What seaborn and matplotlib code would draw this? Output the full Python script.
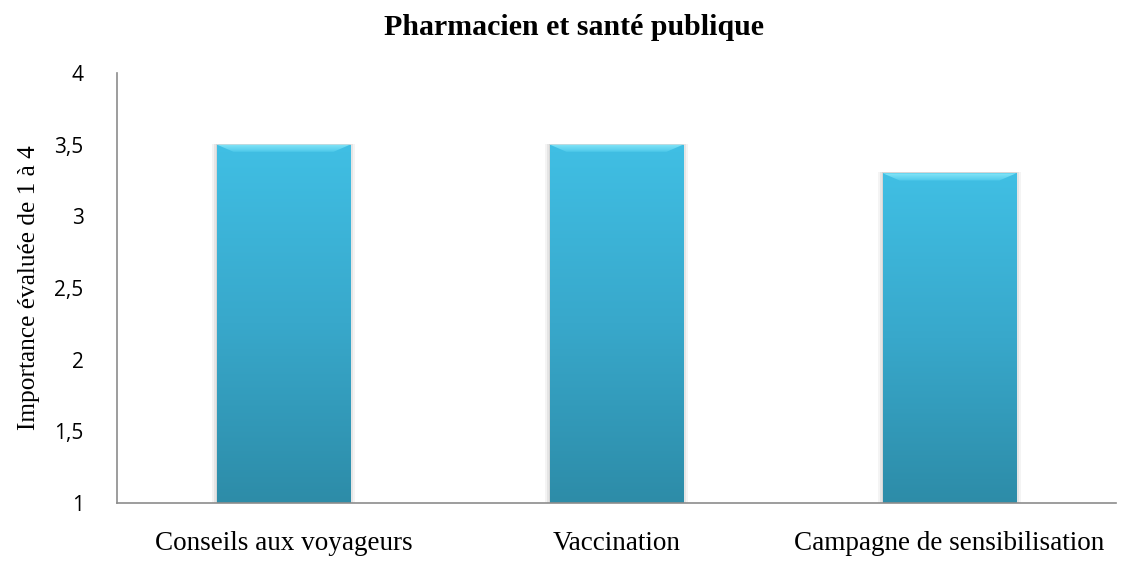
import numpy as np
import pandas as pd
import matplotlib
matplotlib.use("Agg")
import matplotlib.pyplot as plt
import seaborn as sns
from matplotlib.colors import LinearSegmentedColormap

categories = ["Conseils aux voyageurs", "Vaccination", "Campagne de sensibilisation"]
values = [3.5, 3.5, 3.3]
y_ticks = [1, 1.5, 2, 2.5, 3, 3.5, 4]
y_tick_labels = ["1", "1,5", "2", "2,5", "3", "3,5", "4"]
title = "Pharmacien et santé publique"
y_label = "Importance évaluée de 1 à 4"

sns.set_theme(style="white")
plt.rcParams['font.family'] = ['Liberation Serif', 'DejaVu Sans']
plt.rcParams['text.color'] = 'black'
plt.rcParams['axes.labelcolor'] = 'black'
plt.rcParams['xtick.color'] = 'black'
plt.rcParams['ytick.color'] = 'black'

df = pd.DataFrame({"cat": categories, "val": values})

fig = plt.figure(figsize=(11.23, 5.63), dpi=100)
ax = fig.add_axes([0.1042, 0.1066, 0.8896, 0.7637])

sns.barplot(data=df, x="cat", y="val", ax=ax, color="#3cb6dc", width=0.4)
ax.set_ylim(1, 4)

cmap = LinearSegmentedColormap.from_list("g", ["#2d8ca8", "#38a8cb", "#40bfe4"])
grad = np.linspace(0, 1, 256).reshape(-1, 1)
hl_cmap = LinearSegmentedColormap.from_list("h", ["#4cc8ea", "#86e6f8"])
for p in list(ax.patches):
    x0, w = p.get_x(), p.get_width()
    top = p.get_y() + p.get_height()
    # soft shadow
    for k, a in [(0.014, 0.07), (0.008, 0.10), (0.004, 0.12)]:
        sh = plt.Rectangle((x0 - k, 1), w + 2 * k, top - 1 + 0.006,
                           facecolor="#6a6a6a", alpha=a, edgecolor="none",
                           zorder=p.get_zorder() - 0.1)
        ax.add_patch(sh)
    im = ax.imshow(grad, extent=[x0, x0 + w, 1, top], origin="lower",
                   cmap=cmap, aspect="auto", zorder=p.get_zorder() + 0.1)
    im.set_clip_path(p)
    p.set_edgecolor("#246f85")
    p.set_linewidth(0.7)
    # bevel highlight at top (trapezoid)
    bh = 0.05
    dx = 0.05
    poly = plt.Polygon([(x0, top), (x0 + w, top), (x0 + w - dx, top - bh), (x0 + dx, top - bh)],
                       closed=True, facecolor="none", edgecolor="none",
                       zorder=p.get_zorder() + 0.2)
    ax.add_patch(poly)
    im2 = ax.imshow(grad, extent=[x0, x0 + w, top - bh, top], origin="lower",
                    cmap=hl_cmap, aspect="auto", zorder=p.get_zorder() + 0.2)
    im2.set_clip_path(poly)
ax.set_xlim(-0.5, 2.5)
ax.set_ylim(1, 4)

ax.set_yticks(y_ticks)
ax.set_yticklabels(y_tick_labels, fontfamily="Open Sans", fontsize=15)
ax.tick_params(axis="y", length=0, pad=24)
ax.tick_params(axis="x", length=0, pad=20, labelsize=19.5)
for lab in ax.get_xticklabels():
    lab.set_fontfamily("Liberation Serif")

ax.set_xlabel("")
ax.set_ylabel(y_label, fontsize=18.3, fontfamily="Liberation Serif", labelpad=10)
fig.suptitle(title, x=0.511, y=0.975, fontsize=21.5, fontweight="bold",
             fontfamily="Liberation Serif", va="top")

for s in ["top", "right"]:
    ax.spines[s].set_visible(False)
for s in ["left", "bottom"]:
    ax.spines[s].set_color("#8c8c8c")
    ax.spines[s].set_linewidth(1.2)

fig.savefig("out.png", dpi=100)
